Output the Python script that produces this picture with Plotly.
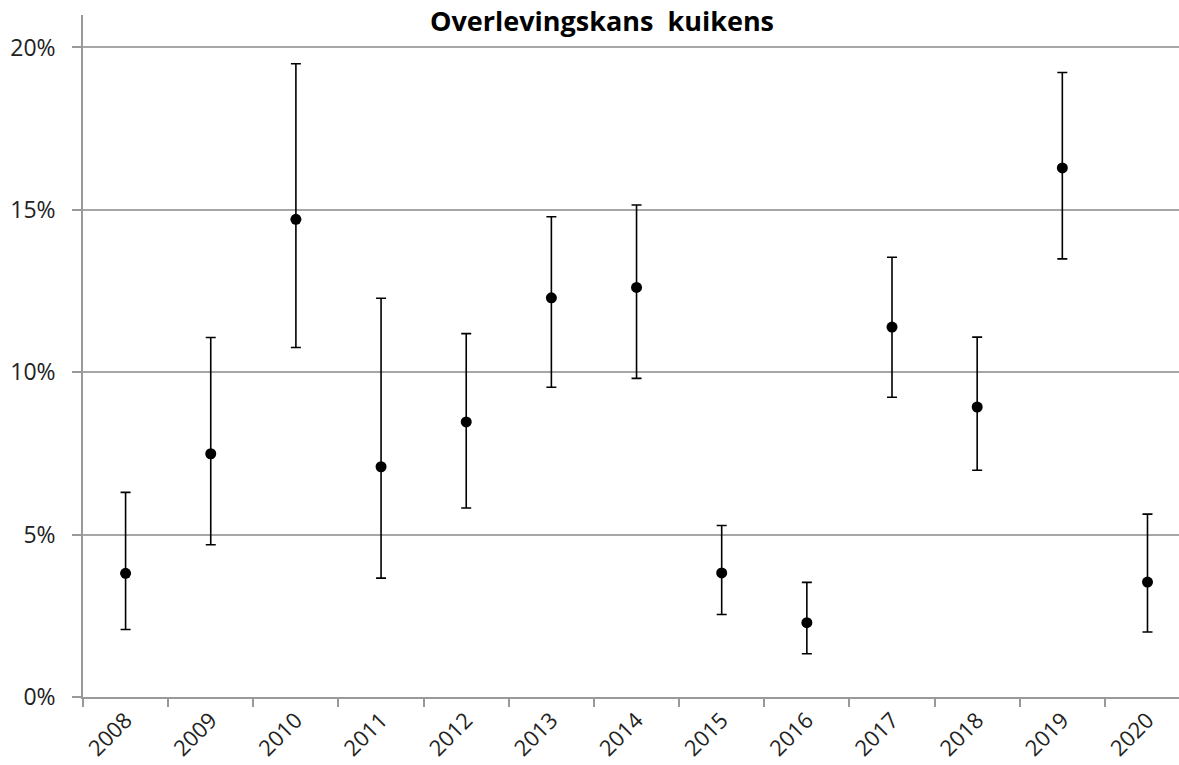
import plotly.graph_objects as go

years = ["2008", "2009", "2010", "2011", "2012", "2013", "2014",
         "2015", "2016", "2017", "2018", "2019", "2020"]
survival = [3.81, 7.49, 14.71, 7.09, 8.47, 12.29, 12.61, 3.82, 2.29, 11.39, 8.93, 16.29, 3.54]
upper = [6.30, 11.07, 19.50, 12.28, 11.19, 14.79, 15.15, 5.28, 3.53, 13.54, 11.08, 19.23, 5.63]
lower = [2.08, 4.69, 10.76, 3.66, 5.82, 9.54, 9.81, 2.54, 1.33, 9.23, 6.98, 13.49, 2.00]
y_ticks = [0, 5, 10, 15, 20]
y_tick_labels = ["0%", "5%", "10%", "15%", "20%"]

yvals = [v / 100 for v in survival]
err_plus = [(u - v) / 100 for u, v in zip(upper, survival)]
err_minus = [(v - l) / 100 for l, v in zip(lower, survival)]

fig = go.Figure()
fig.add_trace(go.Scatter(
    x=years, y=yvals, mode="markers",
    marker=dict(color="black", size=11),
    error_y=dict(type="data", symmetric=False, array=err_plus, arrayminus=err_minus,
                 color="black", thickness=1.6, width=5),
    showlegend=False,
))

font_family = "'Open Sans', Lato, sans-serif"
W, H = 1179, 765
fig.update_layout(
    width=W, height=H,
    margin=dict(l=83, r=0, t=15, b=68, autoexpand=False),
    plot_bgcolor="white", paper_bgcolor="white",
    font=dict(family=font_family, color="#222", size=22),
    title=dict(text="<b>Overlevingskans  kuikens</b>", x=602 / W, xref="container",
               y=1 - 22 / H, yref="container", xanchor="center", yanchor="middle",
               font=dict(size=27, color="black", family=font_family)),
    xaxis=dict(
        type="category", categoryorder="array", categoryarray=years,
        range=[-0.5, 12.37], tickson="boundaries",
        ticks="outside", ticklen=8, tickcolor="#999", tickwidth=1.5,
        showline=True, linecolor="#999", linewidth=1.5,
        showgrid=False, tickangle=-45, tickfont=dict(size=22),
    ),
    yaxis=dict(
        range=[0, 0.21], tickvals=[t / 100 for t in y_ticks], ticktext=y_tick_labels,
        ticks="outside", ticklen=9, tickcolor="#999", tickwidth=1.5,
        showline=True, linecolor="#999", linewidth=1.5,
        showgrid=True, gridcolor="#a6a6a6", gridwidth=1.5, zeroline=False,
        tickfont=dict(size=23), ticklabelstandoff=12,
    ),
)

fig.write_html("out.html", config={"displayModeBar": False},
               post_script="document.body.style.margin='0';document.body.style.overflow='hidden';")
